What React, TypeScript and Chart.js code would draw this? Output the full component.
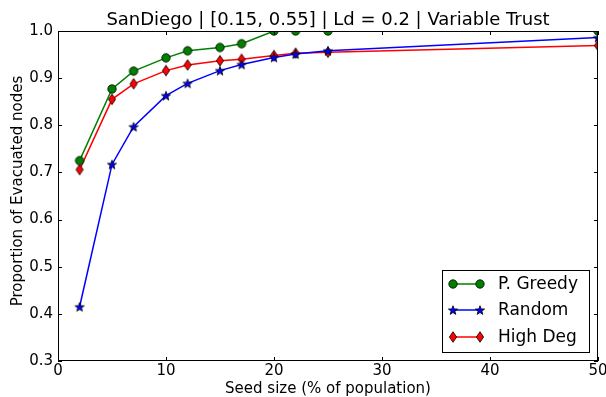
import React, { useEffect, useRef } from "react";
import { Chart, registerables } from "chart.js";

Chart.register(...registerables);

const seedSizes = [2, 5, 7, 10, 12, 15, 17, 20, 22, 25, 50];
const greedyValues = [0.725, 0.877, 0.915, 0.943, 0.958, 0.965, 0.973, 1.0, 1.0, 1.0, 1.0];
const randomValues = [0.415, 0.717, 0.797, 0.863, 0.889, 0.916, 0.929, 0.944, 0.951, 0.958, 0.986];
const highDegValues = [0.706, 0.855, 0.888, 0.916, 0.928, 0.937, 0.940, 0.948, 0.953, 0.955, 0.969];
const xTicks = [0, 10, 20, 30, 40, 50];
const yTicks = [0.3, 0.4, 0.5, 0.6, 0.7, 0.8, 0.9, 1.0];
const seriesNames = ["P. Greedy", "Random", "High Deg"];
const titleText = "SanDiego | [0.15, 0.55] | Ld = 0.2 | Variable Trust";
const xLabel = "Seed size (% of population)";
const yLabel = "Proportion of Evacuated nodes";

const FONT = "'DejaVu Sans', sans-serif";

function makeMarker(kind: string, color: string): HTMLCanvasElement {
  const c = document.createElement("canvas");
  const s = 14;
  c.width = s;
  c.height = s;
  const g = c.getContext("2d")!;
  const cx = s / 2, cy = s / 2;
  g.fillStyle = color;
  g.strokeStyle = "#000";
  g.lineWidth = 0.8;
  g.beginPath();
  if (kind === "circle") {
    g.arc(cx, cy, 4.2, 0, Math.PI * 2);
  } else if (kind === "star") {
    const ro = 4.8, ri = 2.0;
    for (let i = 0; i < 10; i++) {
      const r = i % 2 === 0 ? ro : ri;
      const a = -Math.PI / 2 + (i * Math.PI) / 5;
      const px = cx + r * Math.cos(a), py = cy + r * Math.sin(a) + 0.5;
      if (i === 0) g.moveTo(px, py); else g.lineTo(px, py);
    }
    g.closePath();
  } else {
    g.moveTo(cx, cy - 5.3);
    g.lineTo(cx + 3.6, cy);
    g.lineTo(cx, cy + 5.3);
    g.lineTo(cx - 3.6, cy);
    g.closePath();
  }
  g.fill();
  g.stroke();
  return c;
}

export default function App() {
  const ref = useRef<HTMLCanvasElement | null>(null);

  useEffect(() => {
    if (!ref.current) return;
    const markers = [
      makeMarker("circle", "#008000"),
      makeMarker("star", "#0000ff"),
      makeMarker("diamond", "#ff0000"),
    ];
    const colors = ["#008000", "#0000ff", "#ff0000"];
    const values = [greedyValues, randomValues, highDegValues];

    const decor = {
      id: "decor",
      afterDatasetsDraw(chart: any) {
        const ctx = chart.ctx;
        const a = chart.chartArea;
        const xs = chart.scales.x;
        const ys = chart.scales.y;
        ctx.save();
        // frame
        ctx.strokeStyle = "#000";
        ctx.lineWidth = 1;
        ctx.strokeRect(Math.round(a.left) + 0.5, Math.round(a.top) + 0.5, Math.round(a.right - a.left) - 1, Math.round(a.bottom - a.top) - 1);
        // inside ticks
        const tl = 4;
        ctx.beginPath();
        xTicks.forEach((t) => {
          const px = Math.round(xs.getPixelForValue(t)) + 0.5;
          ctx.moveTo(px, a.bottom);
          ctx.lineTo(px, a.bottom - tl);
          ctx.moveTo(px, a.top);
          ctx.lineTo(px, a.top + tl);
        });
        yTicks.forEach((t) => {
          const py = Math.round(ys.getPixelForValue(t)) + 0.5;
          ctx.moveTo(a.left, py);
          ctx.lineTo(a.left + tl, py);
          ctx.moveTo(a.right, py);
          ctx.lineTo(a.right - tl, py);
        });
        ctx.stroke();
        // title
        ctx.fillStyle = "#000";
        ctx.textAlign = "center";
        ctx.textBaseline = "middle";
        ctx.font = "18px " + FONT;
        ctx.fillText(titleText, (a.left + a.right) / 2, 20);
        // axis labels
        ctx.font = "15px " + FONT;
        ctx.fillText(xLabel, (a.left + a.right) / 2, 389);
        ctx.save();
        ctx.translate(18, 191);
        ctx.rotate(-Math.PI / 2);
        ctx.fillText(yLabel, 0, 0);
        ctx.restore();
        // legend
        const lx = 442.5, ly = 270.5, lw = 147, lh = 82;
        ctx.fillStyle = "#fff";
        ctx.fillRect(lx, ly, lw, lh);
        ctx.strokeStyle = "#000";
        ctx.lineWidth = 1;
        ctx.strokeRect(lx, ly, lw, lh);
        const rows = [284, 310, 337];
        ctx.textAlign = "left";
        ctx.font = "17px " + FONT;
        seriesNames.forEach((name, i) => {
          const y = rows[i];
          ctx.strokeStyle = colors[i];
          ctx.lineWidth = 1.5;
          ctx.beginPath();
          ctx.moveTo(453, y);
          ctx.lineTo(480, y);
          ctx.stroke();
          const m = markers[i];
          ctx.drawImage(m, 453 - m.width / 2, y - m.height / 2);
          ctx.drawImage(m, 480 - m.width / 2, y - m.height / 2);
          ctx.fillStyle = "#000";
          ctx.fillText(name, 498, y + 1);
        });
        ctx.restore();
      },
    };

    const chart = new Chart(ref.current, {
      type: "line",
      data: {
        datasets: seriesNames.map((name, i) => ({
          label: name,
          data: seedSizes.map((x, j) => ({ x, y: values[i][j] })),
          borderColor: colors[i],
          backgroundColor: colors[i],
          borderWidth: 1.5,
          pointStyle: markers[i] as any,
          pointRadius: 5,
          pointHoverRadius: 5,
          tension: 0,
          fill: false,
          clip: 0 as any,
        })),
      },
      options: {
        responsive: false,
        animation: false,
        events: [],
        layout: { padding: { top: 31, right: 8, left: 0, bottom: 0 } },
        plugins: {
          legend: { display: false },
          title: { display: false },
          tooltip: { enabled: false },
        },
        scales: {
          x: {
            type: "linear",
            min: 0,
            max: 50,
            afterFit: (s: any) => { s.height = 36; s.paddingLeft = 0; s.paddingRight = 0; },
            afterBuildTicks: (s: any) => { s.ticks = xTicks.map((v) => ({ value: v })); },
            ticks: {
              color: "#000",
              font: { family: FONT, size: 15 },
              padding: 1,
              maxRotation: 0,
              callback: (v: any) => String(v),
            },
            grid: { display: true, drawOnChartArea: false, drawTicks: false },
            border: { display: false },
          },
          y: {
            type: "linear",
            min: 0.3,
            max: 1.0,
            afterFit: (s: any) => { s.width = 58; s.paddingTop = 0; s.paddingBottom = 0; },
            afterBuildTicks: (s: any) => { s.ticks = yTicks.map((v) => ({ value: v })); },
            ticks: {
              color: "#000",
              font: { family: FONT, size: 15 },
              padding: 5,
              callback: (v: any) => Number(v).toFixed(1),
            },
            grid: { display: true, drawOnChartArea: false, drawTicks: false },
            border: { display: false },
          },
        },
      },
      plugins: [decor],
    });
    return () => chart.destroy();
  }, []);

  return (
    <div style={{ position: "absolute", left: 0, top: 0, width: 606, height: 397, background: "#fff" }}>
      <canvas ref={ref} width={606} height={397} style={{ width: 606, height: 397 }} />
    </div>
  );
}
